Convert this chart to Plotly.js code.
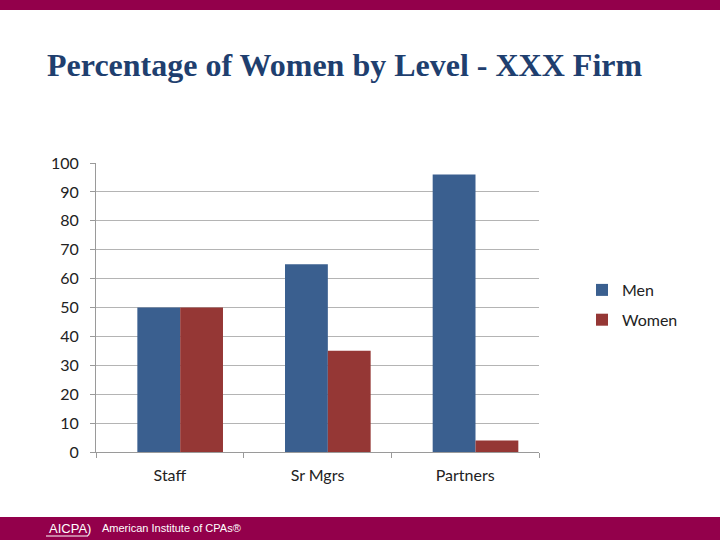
<!DOCTYPE html>
<html>
<head>
<meta charset="utf-8">
<script src="https://cdn.plot.ly/plotly-3.0.1.min.js"></script>
<style>
html,body{margin:0;padding:0;background:#fff;}
#chart{width:720px;height:540px;}
</style>
</head>
<body>
<div id="chart"></div>
<script>
const categories = ["Staff", "Sr Mgrs", "Partners"];
const menValues = [50, 65, 96];
const womenValues = [50, 35, 4];
const yTickValues = [0, 10, 20, 30, 40, 50, 60, 70, 80, 90, 100];

const W = 720, H = 540;
const L = 96, R = 181, T = 163, B = 88;
const plotH = H - T - B;
const plotW = W - L - R;
function py(pix) { return (H - B - pix) / plotH; }
function px(pix) { return (pix - L) / plotW; }

const FONT = "Lato, 'Open Sans', sans-serif";
const BAR_W = 0.29;
const SHIFT = 0.07;

const traces = [
  {type: "bar", name: "Men", x: categories, y: menValues, legendgroup: "a",
   width: BAR_W, offset: -BAR_W + SHIFT,
   marker: {color: "#3A5F8F", line: {width: 0}}, hoverinfo: "x+y+name"},
  {type: "bar", name: "Women", x: categories, y: womenValues, legendgroup: "b",
   width: BAR_W, offset: SHIFT,
   marker: {color: "#953735", line: {width: 0}}, hoverinfo: "x+y+name"}
];

const layout = {
  width: W, height: H,
  margin: {l: L, r: R, t: T, b: B, pad: 0},
  paper_bgcolor: "#ffffff",
  plot_bgcolor: "#ffffff",
  barmode: "group",
  bargap: 0.42,
  bargroupgap: 0,
  font: {family: FONT, size: 16, color: "#222222"},
  xaxis: {
    type: "category",
    showgrid: false,
    showline: true, linecolor: "#9a9a9a", linewidth: 1,
    ticks: "outside", tickson: "boundaries", ticklen: 5, tickcolor: "#9a9a9a",
    ticklabelstandoff: 9,
    tickfont: {family: FONT, size: 16, color: "#222222"},
    zeroline: false,
    fixedrange: true
  },
  yaxis: {
    range: [0, 100],
    tickvals: yTickValues,
    ticktext: yTickValues.map(String),
    showgrid: true, gridcolor: "#b4b4b4", gridwidth: 1,
    showline: true, linecolor: "#9a9a9a", linewidth: 1,
    ticks: "outside", ticklen: 5, tickcolor: "#9a9a9a",
    ticklabelstandoff: 8,
    tickfont: {family: FONT, size: 16, color: "#222222"},
    zeroline: false,
    fixedrange: true
  },
  legend: {
    x: px(582), xanchor: "left",
    y: py(305), yanchor: "middle",
    font: {family: FONT, size: 16, color: "#222222"},
    bgcolor: "rgba(0,0,0,0)",
    traceorder: "grouped",
    tracegroupgap: 6
  },
  title: {
    text: "<b>Percentage of Women by Level - XXX Firm</b>",
    font: {family: "'Liberation Serif', 'Times New Roman', serif", size: 32, color: "#1F3F6F"},
    x: 47 / W, xanchor: "left",
    y: 1 - 65 / H, yanchor: "middle",
    xref: "container", yref: "container"
  },
  shapes: [
    {type: "rect", xref: "paper", yref: "paper",
     x0: px(0), x1: px(W), y0: py(10), y1: py(0),
     fillcolor: "#93004B", line: {width: 0}, layer: "below"},
    {type: "rect", xref: "paper", yref: "paper",
     x0: px(0), x1: px(W), y0: py(540), y1: py(517),
     fillcolor: "#93004B", line: {width: 0}, layer: "below"},
    {type: "line", xref: "paper", yref: "paper",
     x0: px(46), x1: px(88), y0: py(536), y1: py(536),
     line: {color: "#ffffff", width: 1}}
  ],
  annotations: [
    {xref: "paper", yref: "paper",
     x: px(47), y: py(528), xanchor: "left", yanchor: "middle",
     text: "AICPA)", showarrow: false,
     font: {family: "'Liberation Sans', Arial, sans-serif", size: 13, color: "#ffffff"}},
    {xref: "paper", yref: "paper",
     x: px(100), y: py(528), xanchor: "left", yanchor: "middle",
     text: "American Institute of CPAs®", showarrow: false,
     font: {family: "'Liberation Sans', Arial, sans-serif", size: 11, color: "#ffffff"}}
  ],
  showlegend: true
};

Plotly.newPlot("chart", traces, layout, {displayModeBar: false, staticPlot: true});
</script>
</body>
</html>
